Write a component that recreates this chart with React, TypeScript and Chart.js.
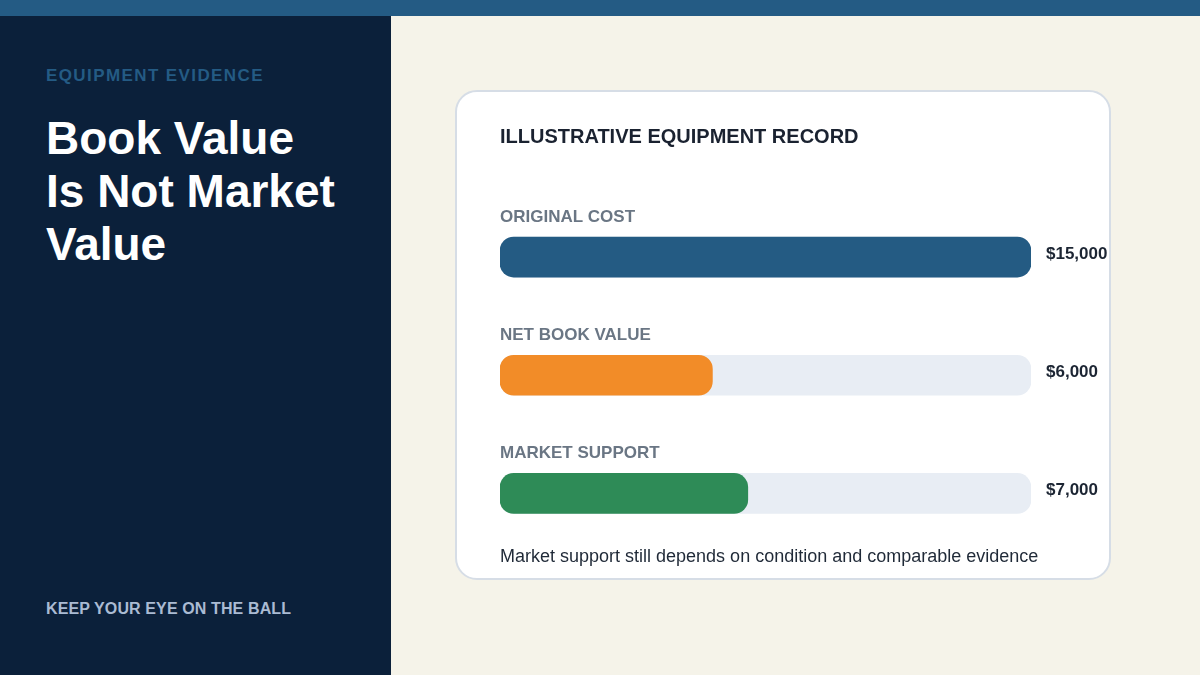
import React, { useEffect, useRef } from "react";
import { Chart, registerables } from "chart.js";

Chart.register(...registerables);

const categories = ["ORIGINAL COST", "NET BOOK VALUE", "MARKET SUPPORT"];
const amounts = [15000, 6000, 7000];
const valueLabels = ["$15,000", "$6,000", "$7,000"];
const barColors = ["#245b83", "#f28c28", "#2e8b57"];
const trackColor = "#e8edf4";

const FONT = "'Liberation Sans', Arial, Helvetica, sans-serif";

const labelPlugin = {
  id: "rowLabels",
  afterDatasetsDraw(chart: any) {
    const ctx = chart.ctx;
    const xScale = chart.scales.x;
    const trackMeta = chart.getDatasetMeta(0);
    const left = xScale.getPixelForValue(0);
    ctx.save();
    trackMeta.data.forEach((bar: any, i: number) => {
      const top = bar.y - bar.height / 2;
      ctx.font = `bold 17px ${FONT}`;
      ctx.fillStyle = "#6a7684";
      ctx.textAlign = "left";
      ctx.textBaseline = "alphabetic";
      ctx.fillText(categories[i], left, top - 15);
      ctx.fillStyle = "#1c2533";
      ctx.fillText(valueLabels[i], bar.x + 15, bar.y + 2);
    });
    ctx.restore();
  },
};

function BarsChart() {
  const ref = useRef<HTMLCanvasElement>(null);
  useEffect(() => {
    if (!ref.current) return;
    const max = Math.max(...amounts);
    const chart = new Chart(ref.current, {
      type: "bar",
      data: {
        labels: categories,
        datasets: [
          {
            data: amounts.map(() => max),
            backgroundColor: trackColor,
            borderRadius: 14,
            borderSkipped: false,
            barThickness: 40,
            grouped: false,
            order: 2,
          },
          {
            data: amounts,
            backgroundColor: barColors,
            borderRadius: 14,
            borderSkipped: false,
            barThickness: 40,
            grouped: false,
            order: 1,
          },
        ],
      },
      options: {
        indexAxis: "y",
        responsive: false,
        animation: false,
        events: [],
        layout: { padding: { left: 45, right: 80, top: 108, bottom: 27.5 } },
        plugins: { legend: { display: false }, tooltip: { enabled: false } },
        scales: {
          x: { display: false, min: 0, max: max },
          y: { display: false, offset: true },
        },
      },
      plugins: [labelPlugin],
    } as any);
    return () => chart.destroy();
  }, []);
  return (
    <canvas
      ref={ref}
      width={656}
      height={490}
      style={{ position: "absolute", left: 455, top: 90, width: 656, height: 490 }}
    />
  );
}

export default function App() {
  const abs = (s: React.CSSProperties): React.CSSProperties => ({ position: "absolute", whiteSpace: "nowrap", ...s });
  return (
    <div
      style={{
        position: "fixed",
        left: 0,
        top: 0,
        width: 1200,
        height: 675,
        background: "#f5f3e9",
        fontFamily: FONT,
        overflow: "hidden",
      }}
    >
      <div style={abs({ left: 0, top: 0, width: 391, height: 675, background: "#0b203a" })} />
      <div style={abs({ left: 0, top: 0, width: 1200, height: 16, background: "#245b84" })} />
      <div
        style={abs({
          left: 46,
          top: 67,
          fontSize: 17,
          lineHeight: "17px",
          fontWeight: 700,
          letterSpacing: 1.4,
          color: "#245b84",
        })}
      >
        EQUIPMENT EVIDENCE
      </div>
      <div
        style={abs({
          left: 46,
          top: 112,
          fontSize: 46,
          lineHeight: "53px",
          fontWeight: 700,
          color: "#ffffff",
        })}
      >
        Book Value
        <br />
        Is Not Market
        <br />
        Value
      </div>
      <div
        style={abs({
          left: 46,
          top: 601,
          fontSize: 16,
          lineHeight: "16px",
          fontWeight: 700,
          letterSpacing: 0.12,
          color: "#aabbd3",
        })}
      >
        KEEP YOUR EYE ON THE BALL
      </div>
      <div
        style={abs({
          left: 455,
          top: 90,
          width: 652,
          height: 486,
          background: "#ffffff",
          border: "2px solid #d6dde6",
          borderRadius: 22,
        })}
      />
      <BarsChart />
      <div
        style={abs({
          left: 500,
          top: 125.5,
          fontSize: 20,
          lineHeight: "20px",
          fontWeight: 700,
          color: "#1a2230",
        })}
      >
        ILLUSTRATIVE EQUIPMENT RECORD
      </div>
      <div
        style={abs({
          left: 500,
          top: 547,
          fontSize: 18,
          lineHeight: "18px",
          color: "#1f2937",
        })}
      >
        Market support still depends on condition and comparable evidence
      </div>
    </div>
  );
}
